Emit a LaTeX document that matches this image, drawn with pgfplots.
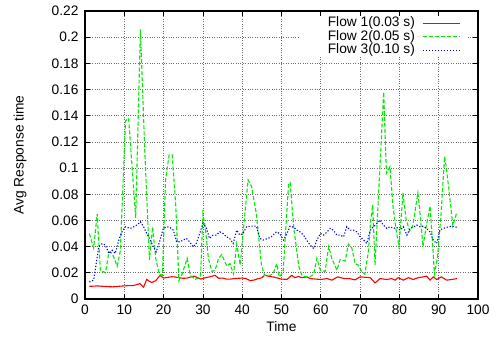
\documentclass[border=0pt]{standalone}
\usepackage{pgfplots}
\pgfplotsset{compat=1.18}
\usepackage{fontspec}
\setmainfont{Liberation Sans}

\definecolor{flowred}{RGB}{255,0,0}
\definecolor{flowgreen}{RGB}{0,235,0}
\definecolor{flowblue}{RGB}{0,0,255}

% Flow 1 (0.03 s)
\pgfplotstableread{
t y
1.1 0.0097
2.2 0.0098
3.1 0.0100
4.0 0.0098
5.0 0.0096
6.0 0.0094
7.0 0.0093
8.0 0.0095
9.0 0.0098
10.0 0.0100
11.0 0.0102
12.0 0.0102
13.0 0.0108
14.0 0.0118
14.9 0.0090
15.7 0.0150
16.4 0.0135
17.0 0.0126
18.0 0.0140
19.1 0.0180
20.0 0.0160
21.0 0.0165
22.0 0.0170
23.0 0.0168
24.0 0.0162
25.0 0.0158
26.0 0.0160
27.7 0.0175
28.5 0.0165
29.4 0.0152
30.3 0.0160
31.7 0.0169
33.1 0.0181
34.0 0.0158
35.0 0.0160
36.0 0.0152
37.0 0.0152
38.0 0.0156
39.0 0.0158
40.0 0.0160
41.0 0.0156
42.0 0.0140
43.0 0.0145
44.0 0.0155
45.0 0.0162
45.7 0.0181
47.0 0.0172
48.0 0.0168
49.0 0.0160
50.0 0.0152
51.4 0.0150
52.6 0.0181
53.4 0.0163
54.3 0.0172
55.1 0.0163
56.4 0.0169
57.3 0.0156
59.9 0.0149
61.6 0.0156
62.8 0.0144
64.3 0.0169
66.0 0.0156
67.3 0.0156
68.7 0.0146
70.0 0.0169
72.6 0.0163
73.8 0.0123
75.1 0.0156
76.8 0.0149
78.0 0.0156
78.9 0.0144
79.7 0.0163
81.0 0.0144
82.3 0.0163
83.5 0.0149
84.8 0.0163
86.1 0.0169
86.9 0.0175
87.8 0.0144
88.6 0.0169
89.5 0.0149
90.7 0.0169
92.0 0.0144
93.3 0.0149
94.7 0.0156
}\flowone

% Flow 2 (0.05 s)
\pgfplotstableread{
t y
1.1 0.050
2.2 0.039
3.1 0.065
3.9 0.022
5.2 0.020
6.1 0.036
6.9 0.035
8.2 0.025
9.0 0.037
10.3 0.136
11.1 0.138
12.9 0.062
14.1 0.206
15.2 0.114
16.4 0.030
17.2 0.055
18.0 0.031
18.9 0.019
19.7 0.018
20.5 0.091
21.4 0.110
22.2 0.110
23.1 0.071
23.9 0.014
24.7 0.019
26.0 0.031
26.8 0.018
28.1 0.015
29.4 0.017
30.0 0.065
30.6 0.055
31.4 0.031
32.3 0.021
33.1 0.022
34.0 0.031
34.8 0.034
36.1 0.025
36.9 0.027
37.8 0.019
38.6 0.042
39.5 0.026
40.3 0.053
41.5 0.091
42.4 0.086
43.6 0.065
44.9 0.026
45.7 0.018
47.0 0.018
47.8 0.019
48.8 0.027
49.4 0.017
50.4 0.020
51.8 0.088
52.2 0.089
53.1 0.055
54.4 0.025
55.2 0.018
56.1 0.017
57.3 0.017
58.2 0.019
59.0 0.031
59.9 0.022
61.1 0.021
62.0 0.040
62.8 0.031
64.1 0.022
64.9 0.030
66.2 0.029
67.0 0.042
67.9 0.039
68.7 0.027
69.5 0.026
70.4 0.021
71.2 0.019
72.1 0.036
72.7 0.060
73.2 0.072
73.8 0.026
76.0 0.158
76.7 0.096
77.6 0.101
78.4 0.070
79.2 0.052
79.9 0.040
80.9 0.081
81.7 0.061
82.6 0.052
83.4 0.056
84.7 0.081
85.1 0.070
86.0 0.040
86.8 0.055
87.8 0.071
88.5 0.040
88.9 0.019
89.7 0.032
90.6 0.065
91.5 0.109
91.9 0.101
92.7 0.081
93.6 0.056
94.6 0.066
}\flowtwo

% Flow 3 (0.10 s)
\pgfplotstableread{
t y
1.1 0.0130
2.2 0.0144
3.5 0.0398
4.4 0.0424
5.2 0.0411
6.1 0.0348
6.9 0.0373
7.7 0.0348
8.6 0.0450
9.4 0.0513
10.3 0.0552
11.5 0.0539
12.4 0.0552
13.2 0.0565
14.1 0.0590
14.9 0.0552
15.7 0.0501
16.6 0.0450
17.4 0.0398
18.1 0.0360
19.1 0.0450
19.9 0.0539
20.8 0.0552
21.6 0.0547
22.5 0.0526
23.3 0.0437
24.1 0.0437
25.0 0.0450
25.8 0.0463
26.6 0.0437
27.5 0.0398
28.3 0.0424
29.2 0.0501
30.0 0.0578
30.9 0.0539
31.7 0.0463
32.6 0.0488
33.4 0.0488
34.3 0.0513
35.1 0.0501
36.0 0.0475
36.8 0.0463
37.7 0.0424
38.6 0.0526
39.4 0.0488
40.2 0.0501
41.1 0.0552
42.4 0.0557
43.6 0.0557
44.5 0.0463
45.3 0.0450
46.6 0.0463
47.4 0.0475
48.7 0.0513
49.5 0.0501
50.5 0.0450
51.4 0.0501
52.2 0.0557
53.1 0.0547
53.9 0.0526
54.7 0.0513
55.6 0.0488
56.4 0.0450
57.3 0.0411
58.2 0.0386
59.0 0.0450
59.9 0.0501
60.7 0.0488
61.6 0.0513
62.4 0.0539
63.2 0.0526
64.1 0.0488
64.9 0.0488
65.8 0.0475
66.6 0.0552
67.5 0.0526
68.3 0.0526
69.2 0.0513
70.0 0.0475
70.9 0.0450
71.7 0.0424
72.6 0.0526
73.4 0.0552
74.3 0.0578
75.1 0.0603
75.9 0.0565
76.8 0.0539
77.6 0.0552
78.5 0.0539
79.3 0.0547
80.2 0.0526
81.0 0.0552
81.9 0.0488
82.7 0.0539
83.5 0.0547
84.4 0.0565
85.2 0.0552
86.1 0.0557
86.9 0.0539
87.8 0.0513
88.6 0.0450
89.5 0.0424
90.3 0.0526
91.2 0.0539
92.0 0.0547
93.3 0.0557
94.7 0.0547
}\flowthree

% Line styles of the three flows
\tikzset{
  flow1/.style={draw=flowred, line width=1.1bp, solid},
  flow2/.style={draw=flowgreen, line width=1.1bp, dash pattern=on 4bp off 2bp},
  flow3/.style={draw=flowblue, line width=1.1bp, dash pattern=on 1.2bp off 1.8bp},
  keytext/.style={anchor=east, inner sep=0pt, font=\fontsize{13.8}{16}\selectfont},
}

\begin{document}
\begin{tikzpicture}
\begin{axis}[
  name=ax,
  scale only axis,
  width=393bp, height=288bp,
  xmin=0, xmax=100, ymin=0, ymax=0.22,
  xtick={0,10,...,100},
  ytick={0,0.02,0.04,0.06,0.08,0.1,0.12,0.14,0.16,0.18,0.2,0.22},
  yticklabels={0,0.02,0.04,0.06,0.08,0.1,0.12,0.14,0.16,0.18,0.2,0.22},
  /pgf/number format/assume math mode=true,
  font=\fontsize{13.8}{16}\selectfont,
  tick label style={font=\fontsize{13.8}{16}\selectfont},
  label style={font=\fontsize{13.8}{16}\selectfont},
  yticklabel style={xshift=-3bp},
  xticklabel style={yshift=-2bp},
  tick align=inside,
  major tick length=5bp,
  tick style={black, line width=0.8bp},
  axis line style={black, line width=1.2bp},
  grid=major,
  major grid style={dotted, gray!85!black, line width=0.7bp},
  xlabel={Time},
  ylabel={Avg Response time},
  xlabel style={at={(axis description cs:0.5,-0.097)}, anchor=center},
  ylabel style={at={(axis description cs:-0.165,0.5)}, anchor=center},
]
\addplot[flow1] table[x=t,y=y] {\flowone};
\addplot[flow2] table[x=t,y=y] {\flowtwo};
\addplot[flow3] table[x=t,y=y] {\flowthree};
% key: white panel, labels on the left, line samples on the right
\fill[white] (axis description cs:0.547,0.84) rectangle (axis description cs:0.975,0.982);
\node[keytext] at (axis description cs:0.84,0.958) {Flow 1(0.03 s)};
\node[keytext] at (axis description cs:0.84,0.910) {Flow 2(0.05 s)};
\node[keytext] at (axis description cs:0.84,0.864) {Flow 3(0.10 s)};
\draw[flow1] (axis description cs:0.86,0.958) -- (axis description cs:0.954,0.958);
\draw[flow2] (axis description cs:0.86,0.910) -- (axis description cs:0.954,0.910);
\draw[flow3] (axis description cs:0.86,0.864) -- (axis description cs:0.954,0.864);
\end{axis}
\pgfresetboundingbox
\path ([xshift=-85bp,yshift=-46bp]ax.south west) rectangle ([xshift=21bp,yshift=11bp]ax.north east);
\end{tikzpicture}
\end{document}
